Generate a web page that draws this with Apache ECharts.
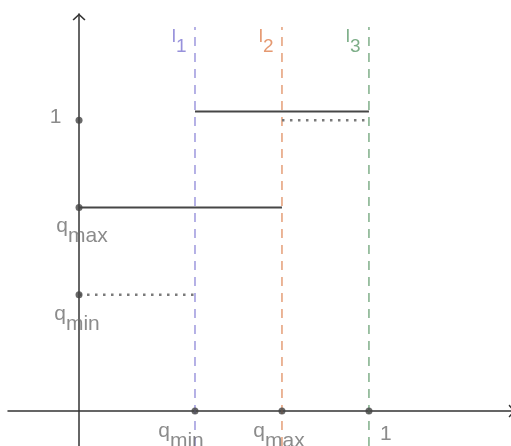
<!DOCTYPE html>
<html>
<head>
<meta charset="utf-8">
<script src="https://cdn.jsdelivr.net/npm/echarts@6/dist/echarts.min.js"></script>
<style>
  html, body { margin: 0; padding: 0; background: #fff; }
  #chart { width: 511px; height: 446px; }
</style>
</head>
<body>
<div id="chart"></div>
<script>
// marked values on the axes
const xTicks = [0.4, 0.7, 1]
const xTickText = ['q_min', 'q_max', '1']
const yTicks = [1, 0.7, 0.4]
const yTickText = ['1', 'q_max', 'q_min']

// vertical guides l1, l2, l3
const guideX = [0.4, 0.7, 1]
const guideText = ['l_1', 'l_2', 'l_3']
const guideTop = 1.32

// horizontal pieces
const solidPieces = [
  [[0.4, 1.03], [1, 1.03]],
  [[0, 0.7], [0.7, 0.7]]
]
const dottedPieces = [
  [[0.7, 1], [1, 1]],
  [[0, 0.4], [0.4, 0.4]]
]

const xMin = -0.245
const xMax = 1.49
const yMin = -0.12
const yMax = 1.365

const guideLineColors = ['#9d97dd', '#e59d76', '#7fae88']
const guideTextColors = ['#7d75d2', '#df7f4d', '#5d9a6a']
const font = 'Liberation Sans, Arial, sans-serif'
const labelGray = '#6e6e6e'

// 'q_min' -> q with subscript min
function sub (t) {
  const parts = t.split('_')
  return parts[1] ? '{b|' + parts[0] + '}{s|' + parts[1] + '}' : '{b|' + parts[0] + '}'
}

function richOf (size, lh, color) {
  return {
    b: { fontSize: size, lineHeight: lh, verticalAlign: 'top', color: color, fontFamily: font },
    s: { fontSize: size, lineHeight: lh, verticalAlign: 'bottom', color: color, fontFamily: font }
  }
}

const yLabelPlace = [
  { position: 'left', distance: 14, offset: [0, 2] },
  { position: 'bottom', distance: 0, offset: [3, 5] },
  { position: 'bottom', distance: 0, offset: [-2, 5] }
]
const xLabelPlace = [
  { position: 'bottom', distance: 0, offset: [-14, 6] },
  { position: 'bottom', distance: 0, offset: [-3, 6] },
  { position: 'bottom', distance: 0, offset: [17, 9] }
]

const chart = echarts.init(document.getElementById('chart'))

const series = []

// dashed guides with their names
guideX.forEach(function (x, i) {
  series.push({
    type: 'line',
    data: [[x, yMin], [x, guideTop]],
    showSymbol: false,
    silent: true,
    lineStyle: { color: guideLineColors[i], width: 1.5, type: [9, 7] },
    z: 2
  })
  series.push({
    type: 'scatter',
    data: [[x, guideTop]],
    symbolSize: 1,
    itemStyle: { color: 'transparent' },
    silent: true,
    label: {
      show: true,
      position: [-8, 1],
      align: 'right',
      verticalAlign: 'top',
      formatter: sub(guideText[i]),
      rich: richOf(19, 29, guideTextColors[i])
    },
    z: 5
  })
})

solidPieces.forEach(function (p) {
  series.push({
    type: 'line',
    data: p,
    showSymbol: false,
    silent: true,
    lineStyle: { color: '#464646', width: 2 },
    z: 3
  })
})

dottedPieces.forEach(function (p) {
  series.push({
    type: 'line',
    data: p,
    showSymbol: false,
    silent: true,
    lineStyle: { color: '#7a7a7a', width: 2.5, type: [2.5, 5.5] },
    z: 3
  })
})

// points on the axes
series.push({
  type: 'scatter',
  symbolSize: 7,
  itemStyle: { color: '#444' },
  silent: true,
  z: 6,
  data: yTicks.map(function (v, i) {
    return {
      value: [0, v],
      label: Object.assign({ show: true, formatter: sub(yTickText[i]), rich: richOf(21, 31, labelGray) }, yLabelPlace[i])
    }
  }).concat(xTicks.map(function (v, i) {
    return {
      value: [v, 0],
      label: Object.assign({ show: true, formatter: sub(xTickText[i]), rich: richOf(21, 31, labelGray) }, xLabelPlace[i])
    }
  }))
})

const arrow = 'path://M0,6 L6.5,0 L13,6 L11.8,6.9 L6.5,1.9 L1.2,6.9 Z'
function axisLine (endShift) {
  return {
    show: true,
    onZero: true,
    symbol: ['none', arrow],
    symbolSize: [13, 7],
    symbolOffset: [0, endShift],
    lineStyle: { color: '#333', width: 1.5 }
  }
}

const option = {
  animation: false,
  grid: { left: 8, right: 0, top: 14, bottom: 0 },
  xAxis: {
    type: 'value',
    min: xMin,
    max: xMax,
    axisLine: axisLine(1),
    axisTick: { show: false },
    axisLabel: { show: false },
    splitLine: { show: false }
  },
  yAxis: {
    type: 'value',
    min: yMin,
    max: yMax,
    axisLine: axisLine(-3),
    axisTick: { show: false },
    axisLabel: { show: false },
    splitLine: { show: false }
  },
  series: series
}

option && chart.setOption(option)
</script>
</body>
</html>
